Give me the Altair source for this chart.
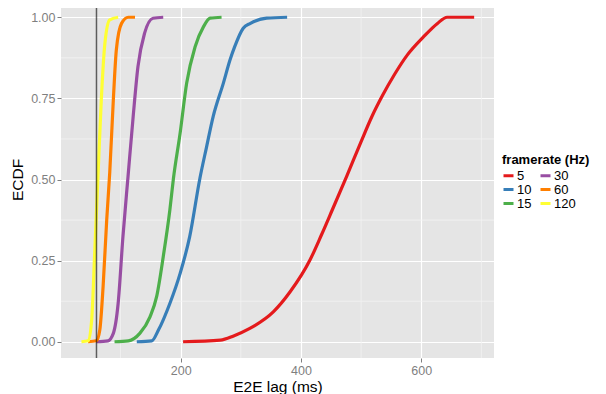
import altair as alt
import pandas as pd

# ECDF curves: lag (ms) and cumulative fraction
fr_5_x = [204, 266, 288, 315, 354, 382, 415, 434, 452, 476, 499, 518, 536, 556, 577, 604, 627, 643, 688]
fr_5_y = [0.0, 0.005, 0.018, 0.041, 0.092, 0.154, 0.252, 0.329, 0.406, 0.51, 0.612, 0.694, 0.76, 0.825, 0.884, 0.940, 0.981, 1.0, 1.0]

fr_10_x = [127, 152, 163, 182, 199, 215, 232, 243, 254, 271, 282, 290, 304, 316, 343, 377]
fr_10_y = [0.0, 0.003, 0.036, 0.118, 0.21, 0.324, 0.504, 0.60, 0.694, 0.797, 0.868, 0.91, 0.966, 0.981, 0.997, 1.0]

fr_15_x = [90, 113, 132, 149, 160, 171, 182, 188, 199, 210, 224, 238, 249, 268]
fr_15_y = [0.0, 0.003, 0.026, 0.077, 0.139, 0.262, 0.406, 0.504, 0.642, 0.797, 0.909, 0.971, 0.997, 1.0]

fr_30_x = [60, 79, 88, 96, 104, 112.5, 121, 129, 140, 154, 171]
fr_30_y = [0.0, 0.003, 0.026, 0.118, 0.324, 0.51, 0.694, 0.848, 0.951, 0.997, 1.0]

fr_60_x = [46, 60, 65.5, 71, 77, 82, 88, 93, 101.7, 113, 124]
fr_60_y = [0.0, 0.003, 0.036, 0.17, 0.375, 0.52, 0.745, 0.899, 0.981, 1.0, 1.0]

fr_120_x = [35, 46, 52, 57, 62.7, 68, 74, 82, 96]
fr_120_y = [0.0, 0.003, 0.067, 0.272, 0.52, 0.745, 0.92, 0.992, 1.0]

framerates = ["5", "10", "15", "30", "60", "120"]
palette = {"5": "#E41A1C", "10": "#377EB8", "15": "#4DAF4A",
           "30": "#984EA3", "60": "#FF7F00", "120": "#FFFF33"}

vline_x = [60]
x_major = [200, 400, 600]
x_minor = [100, 300, 500, 700]
y_major = [0, 0.25, 0.5, 0.75, 1.0]
y_minor = [0.125, 0.375, 0.625, 0.875]

series = {"5": (fr_5_x, fr_5_y), "10": (fr_10_x, fr_10_y), "15": (fr_15_x, fr_15_y),
          "30": (fr_30_x, fr_30_y), "60": (fr_60_x, fr_60_y), "120": (fr_120_x, fr_120_y)}
rows = []
for fr in framerates:
    xs, ys = series[fr]
    for i, (a, b) in enumerate(zip(xs, ys)):
        rows.append({"framerate": fr, "lag": a, "ecdf": b, "i": i})
df = pd.DataFrame(rows)

xscale = alt.Scale(domain=[1, 721], nice=False, zero=False)
yscale = alt.Scale(domain=[-0.05, 1.05], nice=False, zero=False)

minor_x = alt.Chart(pd.DataFrame({"v": x_minor})).mark_rule(
    color="#F2F2F2", strokeWidth=0.8).encode(x=alt.X("v:Q", scale=xscale))
minor_y = alt.Chart(pd.DataFrame({"v": y_minor})).mark_rule(
    color="#F2F2F2", strokeWidth=0.8).encode(y=alt.Y("v:Q", scale=yscale))

lines = alt.Chart(df).mark_line(strokeWidth=3.2, strokeCap="butt",
                                interpolate="monotone").encode(
    x=alt.X("lag:Q", scale=xscale, title="E2E lag (ms)",
            axis=alt.Axis(values=x_major, grid=True)),
    y=alt.Y("ecdf:Q", scale=yscale, title="ECDF",
            axis=alt.Axis(values=y_major, format=".2f", grid=True)),
    color=alt.Color("framerate:N", title="framerate (Hz)",
                    scale=alt.Scale(domain=framerates,
                                    range=[palette[k] for k in framerates]),
                    legend=alt.Legend(orient="none", legendX=441, legendY=153,
                                      columns=2, columnPadding=2, rowPadding=0,
                                      symbolType="stroke", symbolStrokeWidth=3,
                                      symbolSize=100, labelOffset=2,
                                      titleFontSize=13, titleFontWeight="bold",
                                      titleColor="black", labelFontSize=13,
                                      labelColor="black", titlePadding=2)),
    order="i:Q",
)

vline = alt.Chart(pd.DataFrame({"v": vline_x})).mark_rule(
    color="black", opacity=0.6, strokeWidth=1.5).encode(x=alt.X("v:Q", scale=xscale))

chart = alt.layer(minor_x, minor_y, lines, vline).properties(
    width=433, height=357,
    padding={"left": 53, "top": -7, "right": 104, "bottom": 36},
    autosize=alt.AutoSizeParams(type="none"),
    background="white",
).configure_view(fill="#E5E5E5", stroke=None).configure_axis(
    domain=False, gridColor="white", gridWidth=1.2,
    labelColor="#7F7F7F", labelFontSize=12.5, labelFont="Liberation Sans",
    tickColor="#7F7F7F", tickSize=4, labelPadding=2,
    titleFont="Liberation Sans", titleFontSize=15.5, titleFontWeight="normal",
    titleColor="black",
).configure_axisX(titlePadding=3).configure_axisY(titlePadding=5).configure_legend(
    labelFont="Liberation Sans", titleFont="Liberation Sans")

chart.save("out.html", embed_options={"renderer": "svg", "actions": False})
